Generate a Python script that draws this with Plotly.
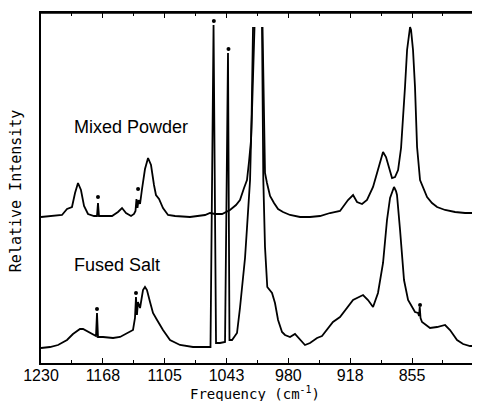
import plotly.graph_objects as go

# Mixed powder spectrum (frequency cm-1, relative intensity); None = pen off scale
mixed_freq = [1230.0, 1215.8, 1208.8, 1203.7, 1198.7, 1195.6, 1192.6, 1189.6, 1186.5, 1182.5,
              1176.4, 1173.4, 1172.4, 1171.4, 1165.3, 1158.2, 1152.2, 1148.1, 1144.1, 1139.0,
              1136.0, 1134.5, 1133.5, 1132.5, 1131.4, 1129.9, 1127.9, 1124.9, 1121.8, 1118.8,
              1115.8, 1113.8, 1110.7, 1106.7, 1101.6, 1094.5, 1079.4, 1064.2, 1059.2, 1054.1,
              1047.0, 1043.0, 1039.0, 1032.9, 1028.9, 1024.8, 1021.8, 1019.8, 1017.7, 1016.7,
              1015.7, 1014.2, 1010.0, 1006.1, 1004.6, 1003.6, 1001.6, 998.5, 994.5, 990.4,
              985.4, 978.3, 968.2, 958.1, 948.0, 937.9, 927.8, 919.7, 914.6, 910.6,
              905.5, 900.5, 894.4, 889.4, 887.3, 884.3, 881.3, 878.2, 875.2, 872.2,
              869.1, 866.1, 864.1, 862.1, 860.0, 858.0, 857.0, 856.0, 854.0, 852.0,
              849.9, 846.9, 844.9, 842.9, 839.8, 834.8, 829.7, 821.6, 811.5, 801.4, 786.3]
mixed_int = [146, 147, 148, 154, 156, 170, 180, 173, 157, 149,
             147, 147, 160, 147, 147, 147, 151, 155, 150, 147,
             149, 152, 164, 155, 163, 159, 174, 194, 205, 198,
             178, 168, 164, 155, 148, 147, 146, 148, 150, 149,
             149, 151, 153, 158, 163, 175, 183, 201, 223, 253,
             283, 336, None, 336, 263, 190, 180, 167, 160, 154,
             151, 148, 146, 146, 147, 150, 152, 163, 168, 161,
             159, 163, 176, 193, 200, 211, 206, 195, 185, 186,
             193, 215, 243, 276, 313, 333, 336, 333, 313, 276,
             216, 183, 178, 173, 166, 160, 156, 153, 151, 150, 150]

# Fused salt spectrum
fused_freq = [1230.0, 1220.9, 1212.8, 1203.7, 1197.7, 1190.6, 1187.5, 1182.5, 1177.4, 1174.4,
              1173.4, 1172.4, 1167.3, 1157.2, 1150.1, 1142.1, 1137.0, 1135.0, 1134.0, 1133.0,
              1132.0, 1129.9, 1126.9, 1124.9, 1122.9, 1119.8, 1116.8, 1112.7, 1106.7, 1099.6,
              1089.5, 1076.4, 1058.7, 1055.6, 1053.1, 1049.1, 1044.0, 1041.0, 1039.5, 1036.9,
              1031.9, 1028.9, 1025.8, 1023.8, 1021.8, 1018.7, 1017.2, 1015.7, 1010.0, 1006.6,
              1005.3, 1003.6, 1001.3, 996.5, 993.5, 990.4, 986.4, 983.4, 978.3, 973.3,
              968.2, 963.2, 958.1, 951.0, 946.0, 939.9, 934.9, 927.8, 922.7, 914.6,
              904.5, 899.5, 894.4, 889.4, 884.3, 880.3, 877.2, 875.2, 873.2, 871.2,
              870.2, 867.1, 863.1, 859.0, 852.0, 848.9, 847.9, 847.2, 846.4, 844.9,
              836.8, 829.7, 821.6, 816.6, 809.5, 803.4, 796.4, 786.3]
fused_int = [15, 16, 18, 23, 29, 34, 34, 31, 28, 27,
             50, 26, 26, 25, 26, 30, 33, 45, 66, 48,
             61, 55, 73, 76, 73, 61, 50, 43, 33, 23,
             18, 16, 16, 338, 20, 20, 21, 310, 23, 23,
             30, 55, 86, 105, 135, 183, 243, 336, None, 336,
             183, 116, 76, 70, 60, 43, 31, 28, 26, 29,
             23, 18, 20, 25, 27, 35, 41, 46, 53, 63,
             68, 63, 56, 70, 100, 143, 165, 171, 176, 172,
             168, 133, 83, 63, 51, 50, 47, 56, 45, 41,
             35, 36, 38, 33, 23, 19, 17, 17]

# Dots marking lines
dot_freq = [1172.4, 1131.9, 1173.4, 1134.0, 846.9, 1055.3, 1040.5]
dot_int = [166, 174, 54, 70, 58, 342, 314]

tick_vals = [1230, 1167.5, 1105, 1042.5, 980, 917.5, 855]
tick_text = ["1230", "1168", "1105", "1043", "980", "918", "855"]

labels = ["Mixed Powder", "Fused Salt"]
label_freq = [1139.5, 1152.7]
label_int = [236, 98]

fig = go.Figure()
fig.add_trace(go.Scatter(x=mixed_freq, y=mixed_int, mode="lines",
                         line=dict(color="black", width=1.8), connectgaps=False,
                         showlegend=False, hoverinfo="skip"))
fig.add_trace(go.Scatter(x=fused_freq, y=fused_int, mode="lines",
                         line=dict(color="black", width=1.8), connectgaps=False,
                         showlegend=False, hoverinfo="skip"))
fig.add_trace(go.Scatter(x=dot_freq, y=dot_int, mode="markers",
                         marker=dict(color="black", size=4), showlegend=False,
                         hoverinfo="skip"))

for t, fx, fy in zip(labels, label_freq, label_int):
    fig.add_annotation(x=fx, y=fy, text=t, showarrow=False,
                       font=dict(family="Liberation Sans", size=18, color="black"))

fig.add_annotation(xref="paper", yref="paper", x=-0.0569, y=0.491,
                   xanchor="center", yanchor="middle",
                   text="Relative Intensity", textangle=-90, showarrow=False,
                   font=dict(family="DejaVu Sans Mono", size=15, color="black"))
fig.add_annotation(xref="paper", yref="paper", x=0.4875, y=-0.0857,
                   xanchor="center", yanchor="middle",
                   text="Frequency (cm<sup>-1</sup>)", showarrow=False,
                   font=dict(family="DejaVu Sans Mono", size=14, color="black"))

fig.add_shape(type="line", xref="paper", yref="paper", x0=0, x1=1, y0=1, y1=1,
              line=dict(color="black", width=1.5))

fig.update_xaxes(range=[1230, 786.3], showline=True, linecolor="black", linewidth=1.5,
                 mirror="allticks", ticks="inside", ticklen=5, tickwidth=1.3, tickcolor="black",
                 tickvals=tick_vals, ticktext=tick_text, showgrid=False, zeroline=False,
                 ticklabelstandoff=-3,
                 tickfont=dict(family="Liberation Sans", size=16, color="black"),
                 minor=dict(tick0=1230, dtick=31.25, ticks="inside", ticklen=3,
                            tickcolor="black", tickwidth=1.2, showgrid=False))
fig.update_yaxes(range=[0, 350], showline=True, linecolor="black", linewidth=1.5,
                 showticklabels=False, ticks="", showgrid=False, zeroline=False)

fig.update_layout(width=472, height=393, margin=dict(l=33, r=0, t=5, b=38),
                  plot_bgcolor="white", paper_bgcolor="white")

fig.write_html("out.html")
